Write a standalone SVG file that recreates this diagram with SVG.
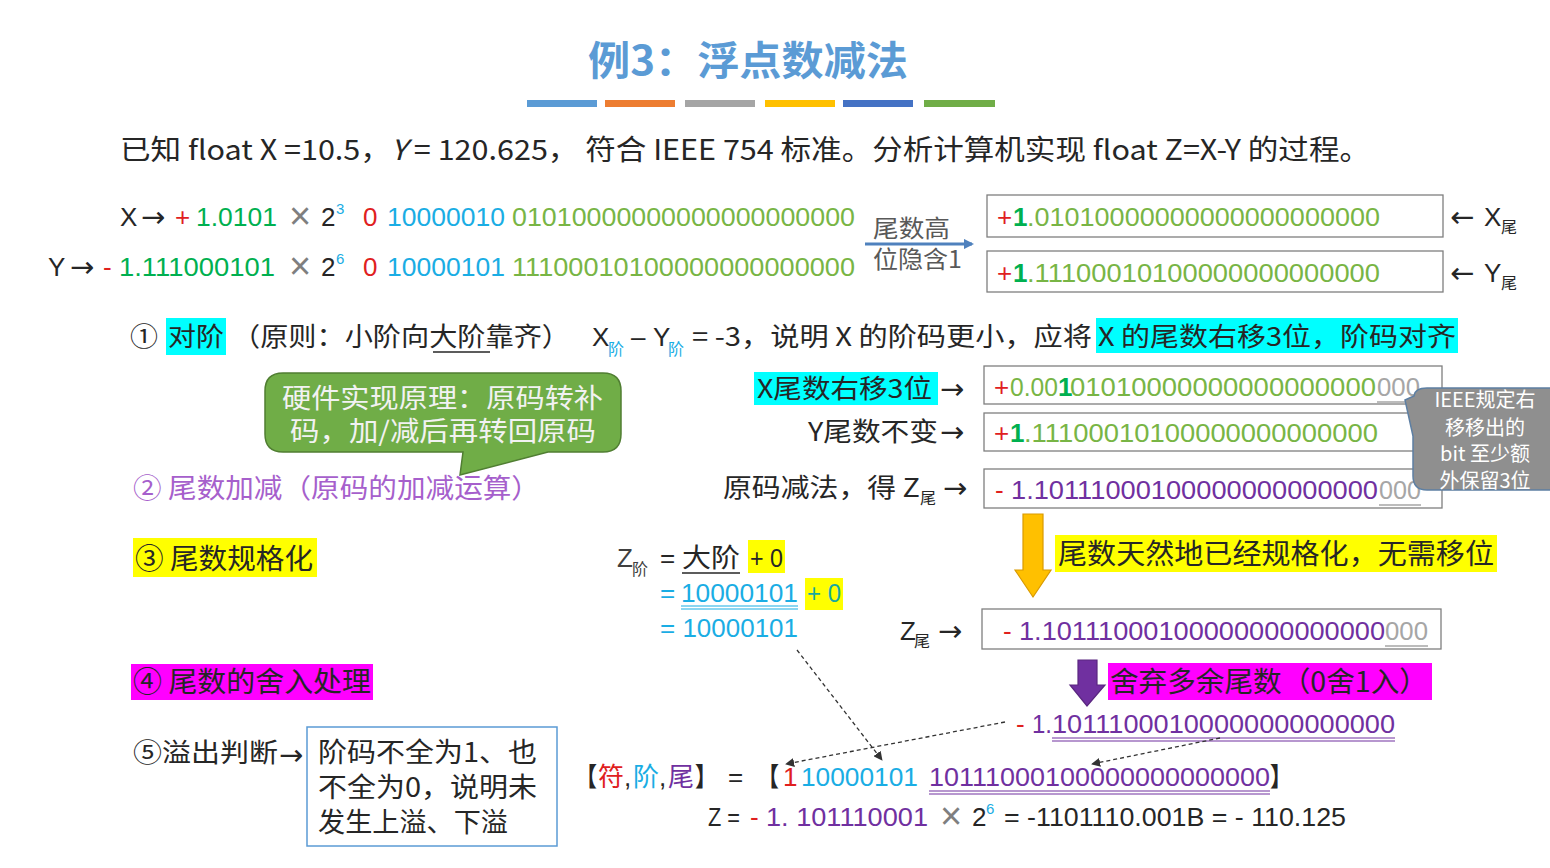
<svg xmlns="http://www.w3.org/2000/svg" width="1550" height="868" viewBox="0 0 1550 868">
<style>
text{font-family:"Liberation Sans","Noto Sans CJK SC",sans-serif;font-size:26px;fill:#262626}
.c{font-family:"Noto Sans CJK SC",sans-serif}
.ar{font-family:"DejaVu Sans",sans-serif;font-size:29px}
.x{font-family:"Liberation Sans",sans-serif;font-size:38px;fill:#7F7F7F}
.bk{font-family:"Noto Sans CJK SC",sans-serif;font-weight:bold}
.red{fill:#E0201E}.g{fill:#00B050}.lg{fill:#78B545}.b{fill:#1AADE4}.p{fill:#7030A0}.gr{fill:#A6A6A6}.mx{fill:#7F7F7F}
.sub{font-size:16px}.sup{font-size:15px}
.box{fill:#fff;stroke:#7F7F7F;stroke-width:1.3}
.dash{fill:none;stroke:#333;stroke-width:1.3;stroke-dasharray:4 3;marker-end:url(#ah)}
</style>
<defs>
<marker id="ah" viewBox="0 0 10 10" refX="9" refY="5" markerWidth="7" markerHeight="7" orient="auto"><path d="M0,0 L10,5 L0,10 Z" fill="#333"/></marker>
<marker id="bh" viewBox="0 0 10 10" refX="8" refY="5" markerWidth="3.5" markerHeight="3.5" orient="auto"><path d="M0,0 L10,5 L0,10 Z" fill="#4F81BD"/></marker>
</defs>
<rect width="1550" height="868" fill="#fff"/>

<g id="title">
<text x="588" y="75" class="c" style="font-size:40px;font-weight:bold;fill:#5B9BD5" textLength="320" lengthAdjust="spacingAndGlyphs">例3：浮点数减法</text>
<rect x="527" y="100" width="70" height="7" fill="#5B9BD5"/>
<rect x="605" y="100" width="70" height="7" fill="#ED7D31"/>
<rect x="685" y="100" width="70" height="7" fill="#A5A5A5"/>
<rect x="765" y="100" width="70" height="7" fill="#FFC000"/>
<rect x="843" y="100" width="70" height="7" fill="#4472C4"/>
<rect x="924" y="100" width="71" height="7" fill="#70AD47"/>
</g>

<g id="header">
<text x="120" y="160" class="c" style="font-size:28px" textLength="1250" lengthAdjust="spacingAndGlyphs">已知 float X =10.5，<tspan font-style="italic">Y</tspan> = 120.625， 符合 IEEE 754 标准。分析计算机实现 float Z=X-Y 的过程。</text>
</g>

<g id="rowX">
<text x="120" y="226">X</text>
<text x="141" y="227" class="ar">→</text>
<text x="175" y="226" class="red">+</text>
<text x="196" y="226" class="g" textLength="81" lengthAdjust="spacingAndGlyphs">1.0101</text>
<text x="289" y="229" class="x">×</text>
<text x="321" y="226">2</text>
<text x="336" y="214" class="b sup">3</text>
<text x="363" y="226" class="red">0</text>
<text x="387" y="226" class="b" textLength="118" lengthAdjust="spacingAndGlyphs">10000010</text>
<text x="512" y="226" class="lg" textLength="343" lengthAdjust="spacingAndGlyphs">01010000000000000000000</text>
</g>

<g id="rowY">
<text x="48" y="276">Y</text>
<text x="70" y="277" class="ar">→</text>
<text x="103" y="276" class="red">-</text>
<text x="119" y="276" class="g" textLength="156" lengthAdjust="spacingAndGlyphs">1.111000101</text>
<text x="289" y="279" class="x">×</text>
<text x="321" y="276">2</text>
<text x="336" y="264" class="b sup">6</text>
<text x="363" y="276" class="red">0</text>
<text x="387" y="276" class="b" textLength="118" lengthAdjust="spacingAndGlyphs">10000101</text>
<text x="512" y="276" class="lg" textLength="343" lengthAdjust="spacingAndGlyphs">11100010100000000000000</text>
</g>

<g id="hidden1">
<text x="873" y="237" class="c" style="font-size:24px;fill:#595959" textLength="77" lengthAdjust="spacingAndGlyphs">尾数高</text>
<text x="873" y="268" class="c" style="font-size:24px;fill:#595959" textLength="89" lengthAdjust="spacingAndGlyphs">位隐含1</text>
</g>

<g id="boxX">
<rect x="987" y="195" width="456" height="42" class="box"/>
<text x="997" y="226" class="red">+</text>
<text x="1013" y="226" class="g" style="font-weight:bold">1</text>
<text x="1027" y="226" class="lg" textLength="353" lengthAdjust="spacingAndGlyphs">.01010000000000000000000</text>
<text x="1450" y="227" class="ar">←</text>
<text x="1484" y="226">X</text>
<text x="1501" y="233" class="c sub">尾</text>
</g>

<g id="boxY">
<rect x="987" y="251" width="456" height="41" class="box"/>
<text x="997" y="282" class="red">+</text>
<text x="1013" y="282" class="g" style="font-weight:bold">1</text>
<text x="1027" y="282" class="lg" textLength="353" lengthAdjust="spacingAndGlyphs">.11100010100000000000000</text>
<text x="1450" y="283" class="ar">←</text>
<text x="1484" y="282">Y</text>
<text x="1501" y="289" class="c sub">尾</text>
</g>

<g id="step1">
<text x="130" y="346" class="c" textLength="28" lengthAdjust="spacingAndGlyphs">①</text>
<rect x="166" y="318" width="60" height="37" fill="#00FFFF"/>
<text x="168" y="346" class="c" textLength="56" lengthAdjust="spacingAndGlyphs">对阶</text>
<text x="232" y="346" class="c" textLength="338" lengthAdjust="spacingAndGlyphs">（原则：小阶向大阶靠齐）</text>
<line x1="433" y1="352" x2="490" y2="352" stroke="#262626" stroke-width="1.3"/>
<text x="592" y="346">X</text>
<text x="608" y="355" class="c sub b">阶</text>
<text x="631" y="346">–</text>
<text x="653" y="346">Y</text>
<text x="668" y="355" class="c sub b">阶</text>
<text x="692" y="346" class="c" textLength="400" lengthAdjust="spacingAndGlyphs">= -3，说明 X 的阶码更小，应将</text>
<rect x="1096" y="318" width="362" height="35" fill="#00FFFF"/>
<text x="1098" y="346" class="c" textLength="358" lengthAdjust="spacingAndGlyphs">X 的尾数右移3位，阶码对齐</text>
</g>

<g id="hwNote">
<path d="M283,373 H603 Q621,373 621,391 V434 Q621,452 603,452 H548 L460,475 L463,452 H283 Q265,452 265,434 V391 Q265,373 283,373 Z" fill="#70AD47" stroke="#507E32" stroke-width="1.5"/>
<text x="282" y="408" class="c" style="font-size:27px;fill:#F2F2F2" textLength="321" lengthAdjust="spacingAndGlyphs">硬件实现原理：原码转补</text>
<text x="290" y="441" class="c" style="font-size:27px;fill:#F2F2F2" textLength="306" lengthAdjust="spacingAndGlyphs">码，加/减后再转回原码</text>
</g>

<g id="step2">
<text x="133" y="498" class="c" style="font-size:27px;fill:#A65FCC" textLength="407" lengthAdjust="spacingAndGlyphs">② 尾数加减（原码的加减运算）</text>
</g>

<g id="labelsRight">
<rect x="754" y="372" width="184" height="33" fill="#00FFFF"/>
<text x="757" y="398" class="c" textLength="175" lengthAdjust="spacingAndGlyphs">X尾数右移3位</text>
<text x="940" y="399" class="ar">→</text>
<text x="808" y="441" class="c" textLength="130" lengthAdjust="spacingAndGlyphs">Y尾数不变</text>
<text x="940" y="442" class="ar">→</text>
<text x="723" y="497" class="c" textLength="197" lengthAdjust="spacingAndGlyphs">原码减法，得 Z</text>
<text x="920" y="504" class="c sub">尾</text>
<text x="943" y="498" class="ar">→</text>
</g>

<g id="boxA">
<rect x="984" y="366" width="458" height="38" class="box"/>
<text x="994" y="396" class="red">+</text>
<text x="1010" y="396" class="lg" textLength="48" lengthAdjust="spacingAndGlyphs">0.00</text>
<text x="1058" y="396" class="g" style="font-weight:bold">1</text>
<text x="1070" y="396" class="lg" textLength="306" lengthAdjust="spacingAndGlyphs">01010000000000000000</text>
<text x="1377" y="396" class="gr" textLength="43" lengthAdjust="spacingAndGlyphs">000</text>
<line x1="1377" y1="402" x2="1420" y2="402" stroke="#A6A6A6" stroke-width="1.5"/>
</g>

<g id="boxB">
<rect x="984" y="413" width="458" height="38" class="box"/>
<text x="994" y="442" class="red">+</text>
<text x="1010" y="442" class="g" style="font-weight:bold">1</text>
<text x="1024" y="442" class="lg" textLength="354" lengthAdjust="spacingAndGlyphs">.11100010100000000000000</text>
</g>

<g id="boxC">
<rect x="984" y="469" width="458" height="39" class="box"/>
<text x="995" y="499" class="red">-</text>
<text x="1011" y="499" class="p" textLength="367" lengthAdjust="spacingAndGlyphs">1.10111000100000000000000</text>
<text x="1379" y="499" class="gr" textLength="42" lengthAdjust="spacingAndGlyphs">000</text>
<line x1="1379" y1="505" x2="1421" y2="505" stroke="#A6A6A6" stroke-width="1.5"/>
</g>

<g id="ieeeNote">
<path d="M1427,388 H1552 V490 H1427 Q1413,490 1413,476 V436 L1405,400 L1414,396 Q1415,388 1427,388 Z" fill="#8F8F8F" stroke="#5D7FA3" stroke-width="1.5"/>
<text x="1485" y="407" class="c" style="font-size:20px;fill:#fff" text-anchor="middle">IEEE规定右</text>
<text x="1485" y="435" class="c" style="font-size:20px;fill:#fff" text-anchor="middle">移移出的</text>
<text x="1485" y="461" class="c" style="font-size:20px;fill:#fff" text-anchor="middle">bit 至少额</text>
<text x="1485" y="488" class="c" style="font-size:20px;fill:#fff" text-anchor="middle">外保留3位</text>
</g>

<g id="step3">
<rect x="133" y="538" width="184" height="39" fill="#FFFF00"/>
<text x="135" y="569" class="c" style="font-size:28px" textLength="178" lengthAdjust="spacingAndGlyphs">③ 尾数规格化</text>
</g>

<g id="zExp">
<text x="617" y="567" style="fill:#404040">Z</text>
<text x="632" y="575" class="c sub" style="fill:#404040">阶</text>
<text x="660" y="567">=</text>
<text x="682" y="567" class="c" textLength="58" lengthAdjust="spacingAndGlyphs">大阶</text>
<line x1="682" y1="573" x2="740" y2="573" stroke="#262626" stroke-width="1.3"/>
<rect x="748" y="540" width="37" height="33" fill="#FFFF00"/>
<text x="750" y="567" textLength="33" lengthAdjust="spacingAndGlyphs">+ 0</text>
<text x="660" y="602" class="b">=</text>
<text x="681" y="602" class="b" textLength="117" lengthAdjust="spacingAndGlyphs">10000101</text>
<line x1="681" y1="606" x2="798" y2="606" stroke="#1AADE4" stroke-width="1.2"/>
<line x1="681" y1="609" x2="798" y2="609" stroke="#1AADE4" stroke-width="1.2"/>
<rect x="805" y="578" width="38" height="32" fill="#FFFF00"/>
<text x="807" y="602" style="fill:#17A9A0" textLength="34" lengthAdjust="spacingAndGlyphs">+ 0</text>
<text x="660" y="637" class="b" textLength="138" lengthAdjust="spacingAndGlyphs">= 10000101</text>
</g>

<g id="normNote">
<path d="M1023,514 H1043 V570 H1051 L1033,597 L1015,570 H1023 Z" fill="#FFC000" stroke="#D99A00" stroke-width="1.2"/>
<rect x="1055" y="535" width="442" height="37" fill="#FFFF00"/>
<text x="1058" y="564" class="c" style="font-size:28px" textLength="436" lengthAdjust="spacingAndGlyphs">尾数天然地已经规格化，无需移位</text>
</g>

<g id="boxD">
<text x="900" y="640">Z</text>
<text x="914" y="647" class="c sub">尾</text>
<text x="938" y="641" class="ar">→</text>
<rect x="982" y="609" width="459" height="40" class="box"/>
<text x="1003" y="640" class="red">-</text>
<text x="1019" y="640" class="p" textLength="366" lengthAdjust="spacingAndGlyphs">1.10111000100000000000000</text>
<text x="1385" y="640" class="gr" textLength="43" lengthAdjust="spacingAndGlyphs">000</text>
<line x1="1385" y1="646" x2="1428" y2="646" stroke="#A6A6A6" stroke-width="1.5"/>
</g>

<g id="roundNote">
<path d="M1078,660 H1097 V685 H1105 L1087,706 L1070,685 H1078 Z" fill="#7030A0" stroke="#5A2680" stroke-width="1.2"/>
<rect x="1108" y="663" width="324" height="37" fill="#FF00FF"/>
<text x="1110" y="692" class="c" style="font-size:28px" textLength="318" lengthAdjust="spacingAndGlyphs">舍弃多余尾数（0舍1入）</text>
</g>

<g id="step4">
<rect x="131" y="664" width="242" height="36" fill="#FF00FF"/>
<text x="133" y="692" class="c" style="font-size:28px" textLength="238" lengthAdjust="spacingAndGlyphs">④ 尾数的舍入处理</text>
</g>

<g id="rounded">
<text x="1016" y="733" class="red">-</text>
<text x="1032" y="733" class="p" textLength="20" lengthAdjust="spacingAndGlyphs">1.</text>
<text x="1052" y="733" class="p" textLength="343" lengthAdjust="spacingAndGlyphs">10111000100000000000000</text>
<line x1="1052" y1="738" x2="1395" y2="738" stroke="#7030A0" stroke-width="1.2"/>
<line x1="1052" y1="741" x2="1395" y2="741" stroke="#7030A0" stroke-width="1.2"/>
</g>

<g id="step5">
<text x="133" y="762" class="c" textLength="145" lengthAdjust="spacingAndGlyphs">⑤溢出判断</text>
<text x="279" y="765" class="ar">→</text>
<rect x="307" y="727" width="250" height="119" fill="#fff" stroke="#5B9BD5" stroke-width="1.5"/>
<text x="318" y="762" class="c" style="font-size:27px" textLength="219" lengthAdjust="spacingAndGlyphs">阶码不全为1、也</text>
<text x="318" y="797" class="c" style="font-size:27px" textLength="219" lengthAdjust="spacingAndGlyphs">不全为0，说明未</text>
<text x="318" y="832" class="c" style="font-size:27px" textLength="190" lengthAdjust="spacingAndGlyphs">发生上溢、下溢</text>
</g>

<g id="result">
<text x="575" y="786" class="bk" textLength="22" lengthAdjust="spacingAndGlyphs">【</text>
<text x="598" y="786" class="c red">符</text>
<text x="624" y="786">,</text>
<text x="633" y="786" class="c b">阶</text>
<text x="659" y="786">,</text>
<text x="668" y="786" class="c p">尾</text>
<text x="695" y="786" class="bk" textLength="22" lengthAdjust="spacingAndGlyphs">】</text>
<text x="728" y="786">=</text>
<text x="757" y="786" class="bk" textLength="22" lengthAdjust="spacingAndGlyphs">【</text>
<text x="783" y="786" class="red">1</text>
<text x="801" y="786" class="b" textLength="117" lengthAdjust="spacingAndGlyphs">10000101</text>
<text x="929" y="786" class="p" textLength="341" lengthAdjust="spacingAndGlyphs">10111000100000000000000</text>
<line x1="929" y1="791" x2="1270" y2="791" stroke="#7030A0" stroke-width="1.2"/>
<line x1="929" y1="794" x2="1270" y2="794" stroke="#7030A0" stroke-width="1.2"/>
<text x="1270" y="786" class="bk" textLength="22" lengthAdjust="spacingAndGlyphs">】</text>
</g>

<g id="finalZ">
<text x="708" y="826" textLength="32" lengthAdjust="spacingAndGlyphs">Z =</text>
<text x="750" y="826" class="red">-</text>
<text x="766" y="826" class="p" textLength="162" lengthAdjust="spacingAndGlyphs">1. 101110001</text>
<text x="940" y="829" class="x">×</text>
<text x="972" y="826">2</text>
<text x="986" y="814" class="b sup">6</text>
<text x="1004" y="826" textLength="342" lengthAdjust="spacingAndGlyphs">= -1101110.001B = - 110.125</text>
</g>

<g id="connectors">
<line x1="865" y1="244" x2="972" y2="244" stroke="#4F81BD" stroke-width="3" marker-end="url(#bh)"/>
<path class="dash" d="M797,650 L882,760"/>
<path class="dash" d="M1005,722 L786,764"/>
<path class="dash" d="M1220,738 L1092,764"/>
</g>
</svg>
